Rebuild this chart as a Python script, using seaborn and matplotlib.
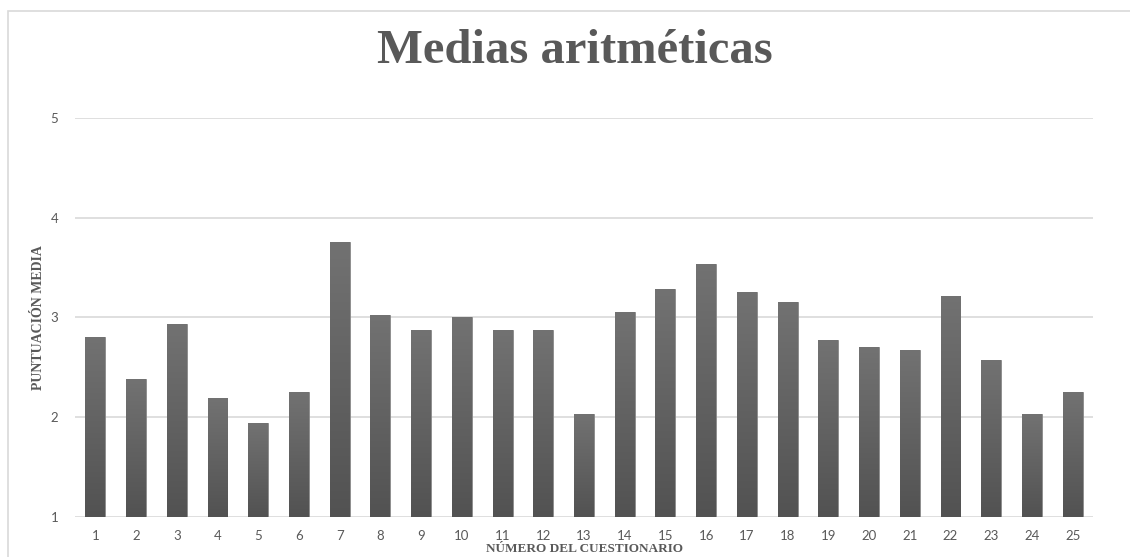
import numpy as np
import pandas as pd
import matplotlib
matplotlib.use("Agg")
import matplotlib.pyplot as plt
from matplotlib.patches import Rectangle
import seaborn as sns

cuestionario = [str(i) for i in range(1, 26)]
puntuacion = [2.80, 2.38, 2.93, 2.19, 1.94, 2.25, 3.76, 3.03, 2.87, 3.00,
              2.87, 2.87, 2.03, 3.06, 3.29, 3.54, 3.26, 3.16, 2.77, 2.70,
              2.67, 3.22, 2.57, 2.03, 2.25]
y_ticks = [1, 2, 3, 4, 5]

df = pd.DataFrame({"cuestionario": cuestionario, "puntuacion": puntuacion})

sns.set_theme(style="white")
plt.rcParams["font.family"] = ["Lato", "DejaVu Sans"]

W, H = 1130, 557
fig = plt.figure(figsize=(W / 100, H / 100), dpi=100)
ax = fig.add_axes([75 / W, (H - 517) / H, (1093 - 75) / W, (517 - 118) / H])

sns.barplot(data=df, x="cuestionario", y="puntuacion", color="#606060",
            width=0.49, ax=ax, saturation=1, zorder=3)

ax.set_ylim(1, 5)
ax.set_xlim(-0.5, 24.5)
ax.set_yticks(y_ticks)
ax.yaxis.grid(True, color="#d9d9d9", linewidth=1.2, zorder=0)
ax.xaxis.grid(False)
for s in ax.spines.values():
    s.set_visible(False)
ax.tick_params(axis="x", length=0, labelsize=9.5, labelcolor="#595959", pad=9)
ax.tick_params(axis="y", length=0, labelsize=9.5, labelcolor="#595959", pad=12)

# gradient fill on bars
grad = np.linspace(0, 1, 256).reshape(-1, 1)
cmap = matplotlib.colors.LinearSegmentedColormap.from_list("g", ["#525252", "#727272"])
for p in ax.patches:
    x0, y0 = p.get_x(), max(p.get_y(), 1)
    w, h = p.get_width(), p.get_height()
    p.set_edgecolor("#8a8a8a")
    p.set_linewidth(0.6)
    im = ax.imshow(grad, cmap=cmap, aspect="auto", origin="lower",
                   extent=[x0, x0 + w, y0, p.get_y() + h], zorder=3.5)
    im.set_clip_path(p)
ax.set_xlim(-0.5, 24.5)
ax.set_ylim(1, 5)

ax.set_xlabel("NÚMERO DEL CUESTIONARIO", fontsize=9.5, fontweight="bold",
              color="#595959", family=["Liberation Serif"], labelpad=1)
ax.set_ylabel("PUNTUACIÓN MEDIA", fontsize=10, fontweight="bold",
              color="#595959", family=["Liberation Serif"], labelpad=4)

fig.text(575 / W, (H - 51) / H, "Medias aritméticas", ha="center", va="center",
         fontsize=35, fontweight="bold", color="#595959",
         family=["Liberation Serif"])

fig.patches.append(Rectangle((8 / W, -0.1), 1.2, (H - 11) / H + 0.1,
                             transform=fig.transFigure, fill=False,
                             edgecolor="#d9d9d9", linewidth=1.2))

fig.savefig("out.png", dpi=100)
